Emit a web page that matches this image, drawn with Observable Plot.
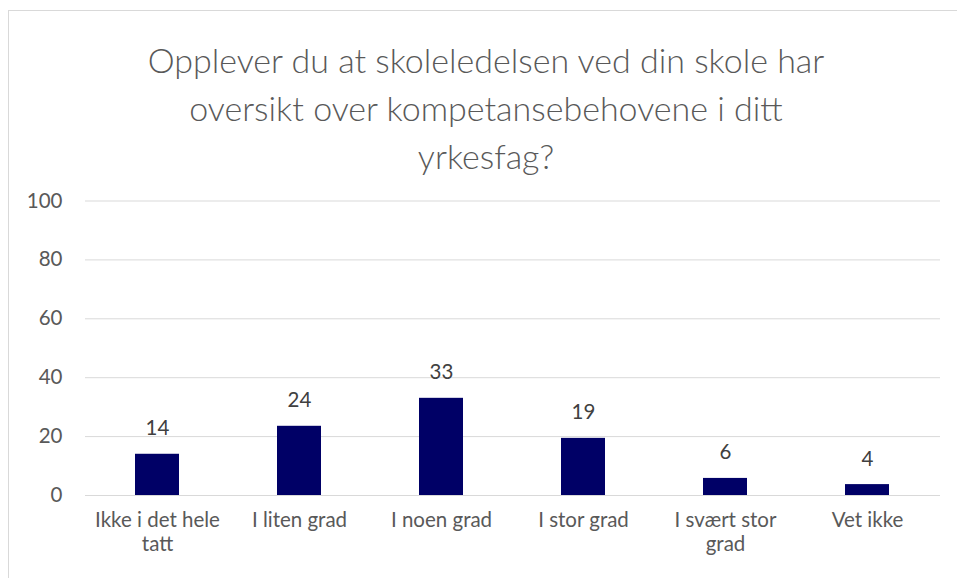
<!DOCTYPE html>
<html><head><meta charset="utf-8">
<script src="https://cdn.jsdelivr.net/npm/d3@7"></script>
<script src="https://cdn.jsdelivr.net/npm/@observablehq/plot@0.6"></script>
<style>
html,body{margin:0;padding:0;background:#fff;}
#wrap{position:relative;width:957px;height:578px;overflow:hidden;font-family:Lato,sans-serif;}
#frame{position:absolute;left:8px;top:10px;width:960px;height:600px;border:1px solid #d9d9d9;box-sizing:border-box;}
#title{position:absolute;left:0;top:36px;width:972px;text-align:center;font-size:34px;font-weight:300;line-height:48px;color:#595959;}
#chart{position:absolute;left:0;top:185px;}
</style></head><body>
<div id="wrap"><div id="frame"></div>
<div id="title">Opplever du at skoleledelsen ved din skole har<br>oversikt over kompetansebehovene i ditt<br>yrkesfag?</div>
<div id="chart"></div></div>
<script>
const categories = ["Ikke i det hele tatt","I liten grad","I noen grad","I stor grad","I svært stor grad","Vet ikke"];
const tickLabels = ["Ikke i det hele\ntatt","I liten grad","I noen grad","I stor grad","I svært stor\ngrad","Vet ikke"];
const values = [14, 23.5, 33, 19.4, 5.8, 3.7];
const yTicks = [0,20,40,60,80,100];
const data = categories.map((c,i)=>({c, v: values[i], label: String(Math.round(values[i]))}));
const chart = Plot.plot({
  width: 957, height: 393,
  marginTop: 15.5, marginBottom: 83, marginLeft: 85, marginRight: 17,
  style: {fontFamily: "Lato, sans-serif", color: "#595959", background: "transparent"},
  x: {domain: categories, paddingInner: 0.69, paddingOuter: 0.345, label: null},
  y: {domain: [0,100], label: null},
  marks: [
    Plot.gridY(yTicks, {stroke: "#d9d9d9", strokeOpacity: 1, strokeWidth: 1}),
    Plot.axisY(yTicks, {tickSize: 0, tickPadding: 23, fontSize: 20.5, fill: "#595959"}),
    Plot.axisX({tickSize: 0, tickPadding: 14, fontSize: 20.5, fill: "#595959", lineHeight: 1.17,
      tickFormat: (d) => tickLabels[categories.indexOf(d)]}),
    Plot.barY(data, {x: "c", y: "v", fill: "#000066"}),
    Plot.text(data, {x: "c", y: "v", text: "label", dy: -19, lineAnchor: "bottom", fontSize: 20.5, fill: "#404040"})
  ]
});
document.getElementById("chart").appendChild(chart);
</script></body></html>
